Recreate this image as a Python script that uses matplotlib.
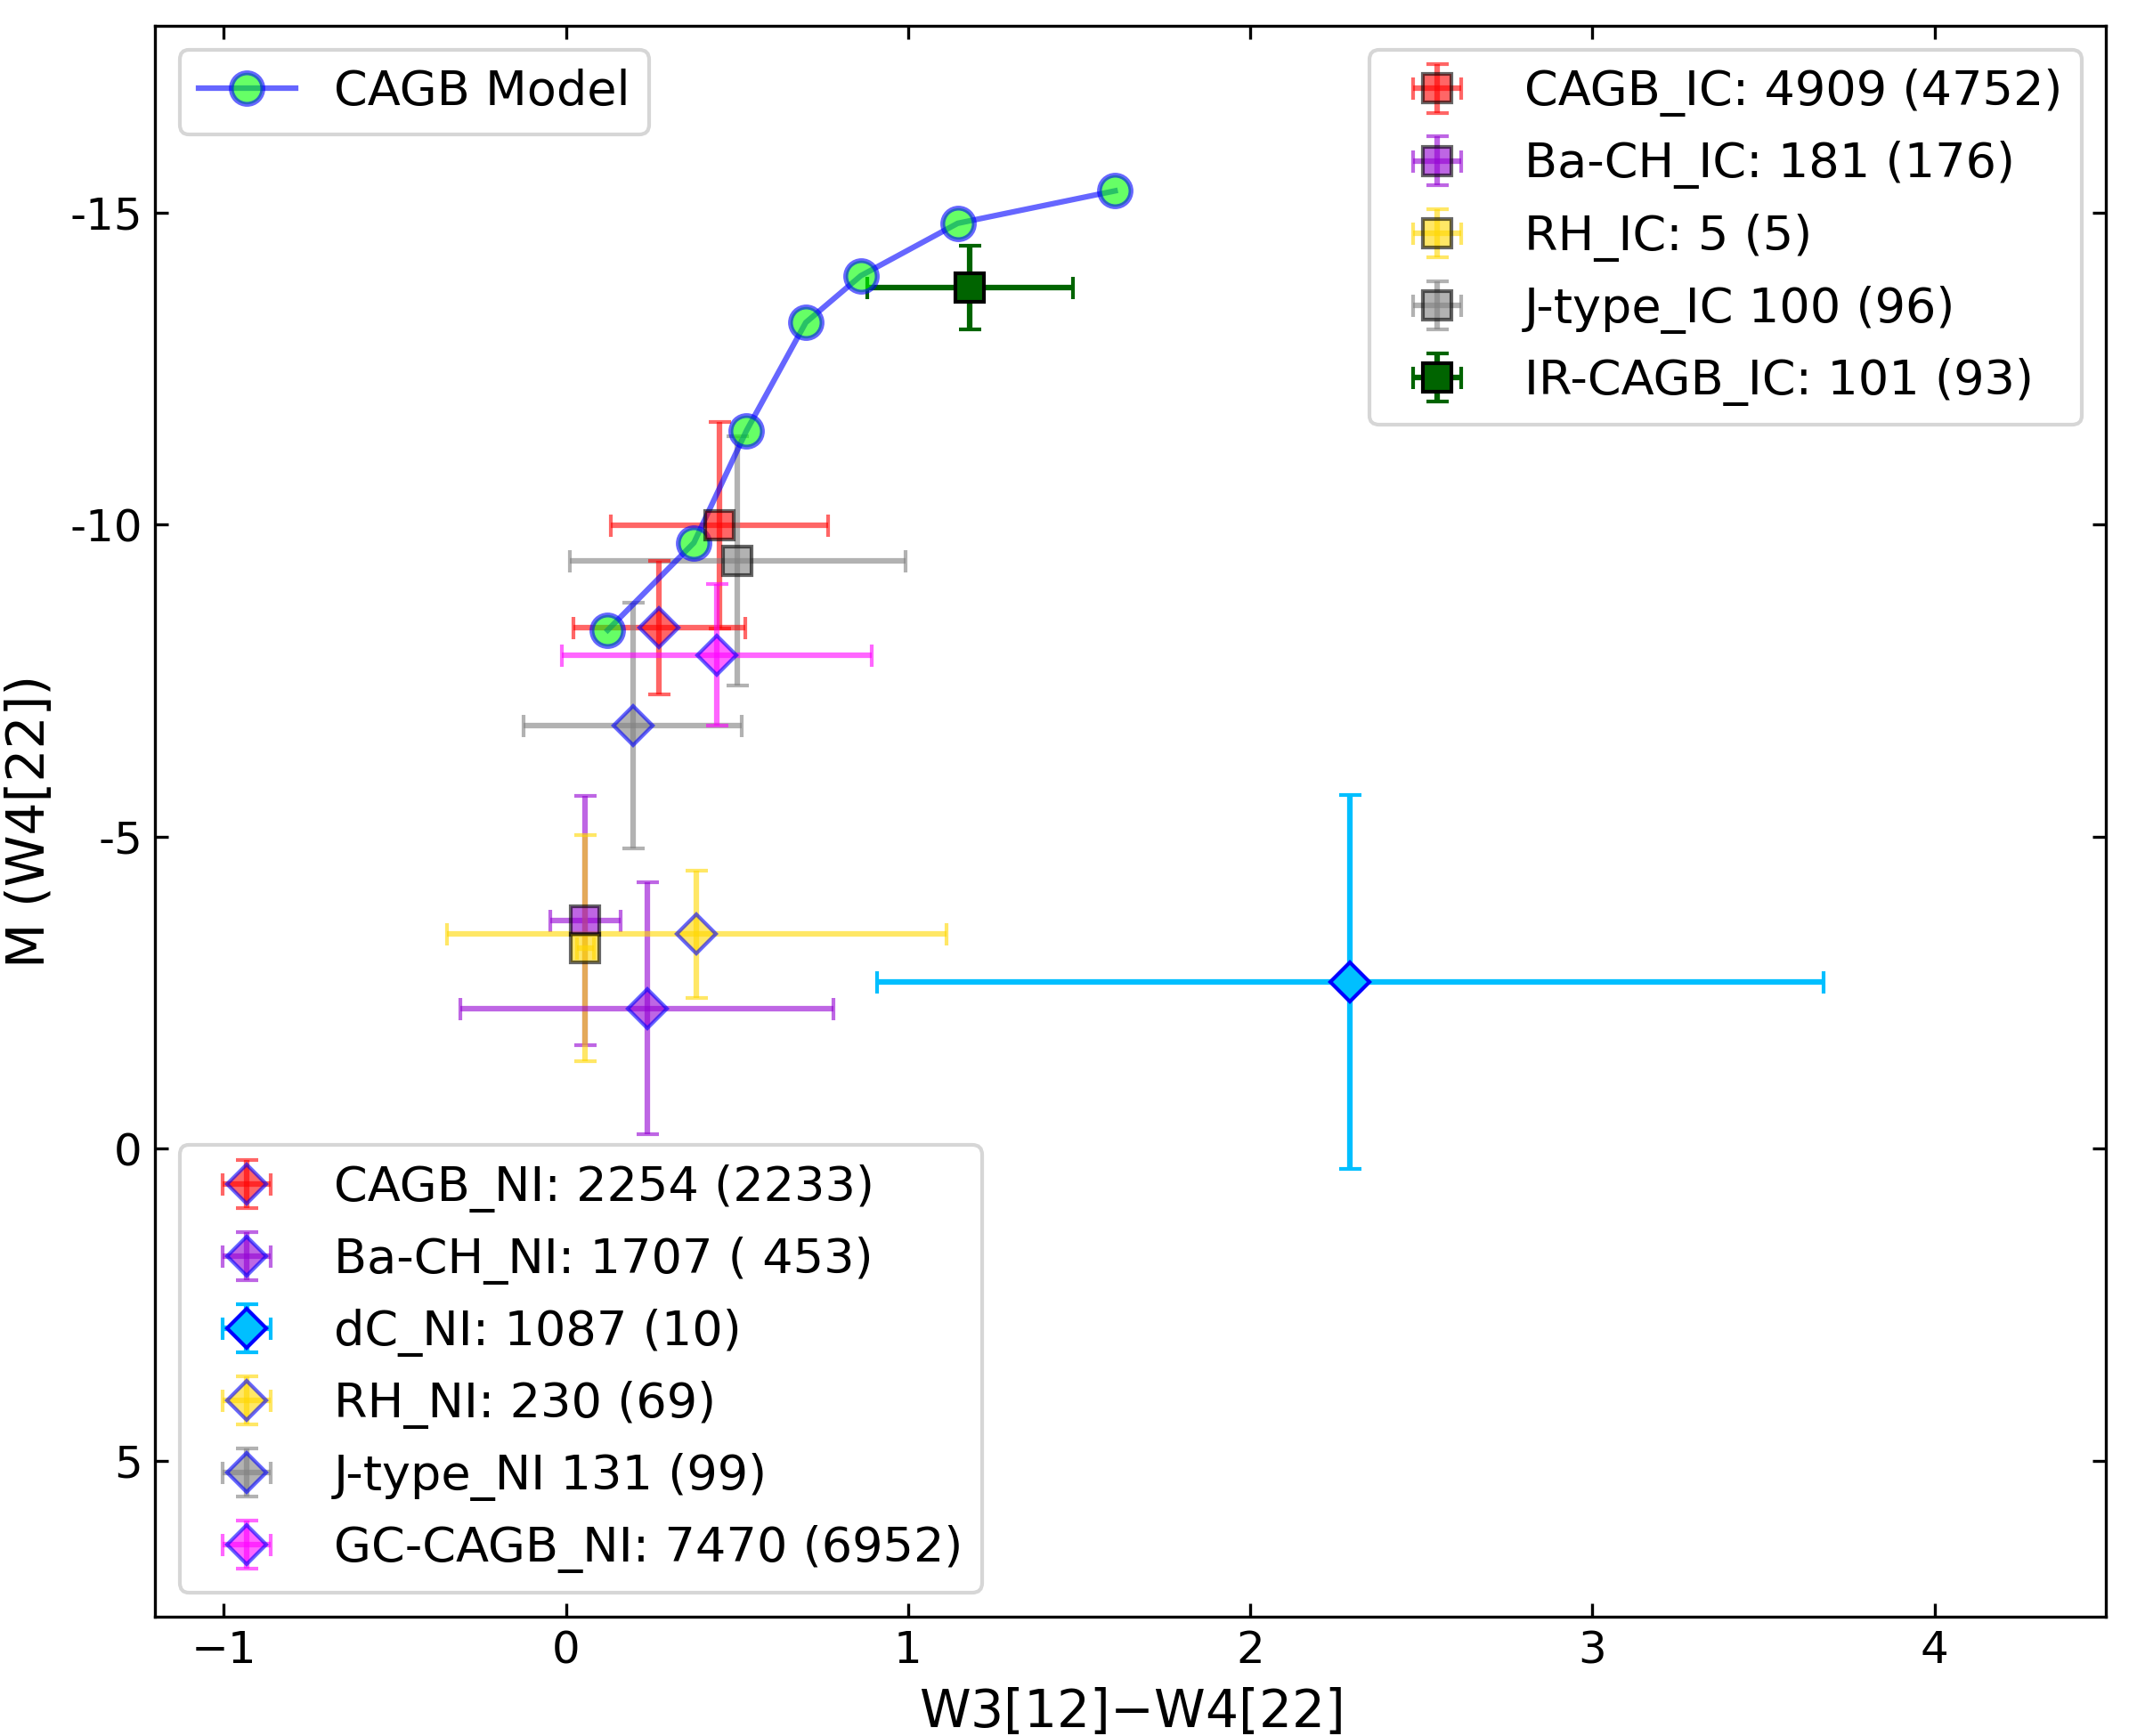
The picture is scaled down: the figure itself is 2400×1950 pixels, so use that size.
import numpy as np
import matplotlib
matplotlib.use('Agg')
from matplotlib import pyplot as plt

# CAGB model track
model_x = [0.122, 0.374, 0.528, 0.701, 0.862, 1.145, 1.605]
model_y = [-8.31, -9.71, -11.51, -13.24, -13.99, -14.83, -15.35]

# IC samples (squares)
ic_labels = ['CAGB_IC: 4909 (4752)', 'Ba-CH_IC: 181 (176)', 'RH_IC: 5 (5)',
             'J-type_IC 100 (96)', 'IR-CAGB_IC: 101 (93)']
ic_x = [0.449, 0.056, 0.057, 0.502, 1.181]
ic_y = [-9.99, -3.66, -3.21, -9.42, -13.80]
ic_xerr = [0.317, 0.103, 0.025, 0.49, 0.30]
ic_yerr = [1.65, 2.0, 1.81, 2.0, 0.67]
ic_colors = ['red', 'darkviolet', 'gold', 'gray', 'darkgreen']

# NI samples (diamonds)
ni_labels = ['CAGB_NI: 2254 (2233)', 'Ba-CH_NI: 1707 ( 453)', 'dC_NI: 1087 (10)',
             'RH_NI: 230 (69)', 'J-type_NI 131 (99)', 'GC-CAGB_NI: 7470 (6952)']
ni_x = [0.272, 0.237, 2.292, 0.382, 0.195, 0.44]
ni_y = [-8.35, -2.25, -2.67, -3.44, -6.78, -7.91]
ni_xerr = [0.251, 0.546, 1.383, 0.73, 0.32, 0.453]
ni_yerr = [1.065, 2.02, 3.0, 1.02, 1.97, 1.135]
ni_colors = ['red', 'darkviolet', 'deepskyblue', 'gold', 'gray', 'magenta']

y_ticks = [-15, -10, -5, 0, 5]
y_ticklabels = ['-15', '-10', '-5', '0', '5']

plt.rcParams['font.size'] = 12

fig = plt.figure(figsize=(8, 6.5), dpi=300)
ax = fig.add_axes([0.0727, 0.0688, 0.9126, 0.9165])

ic_handles = []
for i in range(len(ic_labels)):
    opaque = ic_colors[i] == 'darkgreen'
    h = ax.errorbar(ic_x[i], ic_y[i], xerr=ic_xerr[i], yerr=ic_yerr[i], fmt='s',
                    color=ic_colors[i], mfc=ic_colors[i], mec='k', ms=7.5, mew=1.0,
                    capsize=3, alpha=None if opaque else 0.6, label=ic_labels[i])
    ic_handles.append(h)

ni_handles = []
for i in range(len(ni_labels)):
    opaque = ni_colors[i] == 'deepskyblue'
    h = ax.errorbar(ni_x[i], ni_y[i], xerr=ni_xerr[i], yerr=ni_yerr[i], fmt='D',
                    color=ni_colors[i], mfc=ni_colors[i], mec='blue', ms=7.5, mew=1.0,
                    capsize=3, alpha=None if opaque else 0.6, label=ni_labels[i])
    ni_handles.append(h)

model, = ax.plot(model_x, model_y, '-o', color='blue', mfc='lime', mec='blue',
                 ms=8.5, mew=1.3, lw=1.5, alpha=0.6, label='CAGB Model')

ax.set_xlim(-1.2, 4.5)
ax.set_ylim(7.5, -18)
ax.set_yticks(y_ticks)
ax.set_yticklabels(y_ticklabels)
ax.tick_params(direction='in', top=True, right=True)

ax.set_xlabel('W3[12]$-$W4[22]', fontsize=14)
ax.set_ylabel('M (W4[22])', fontsize=14)

leg1 = ax.legend(handles=[model], loc='upper left', fontsize=13)
ax.add_artist(leg1)
leg2 = ax.legend(handles=ic_handles, loc='upper right', fontsize=13)
ax.add_artist(leg2)
ax.legend(handles=ni_handles, loc='lower left', fontsize=13)

fig.savefig('out.png', dpi=300)
